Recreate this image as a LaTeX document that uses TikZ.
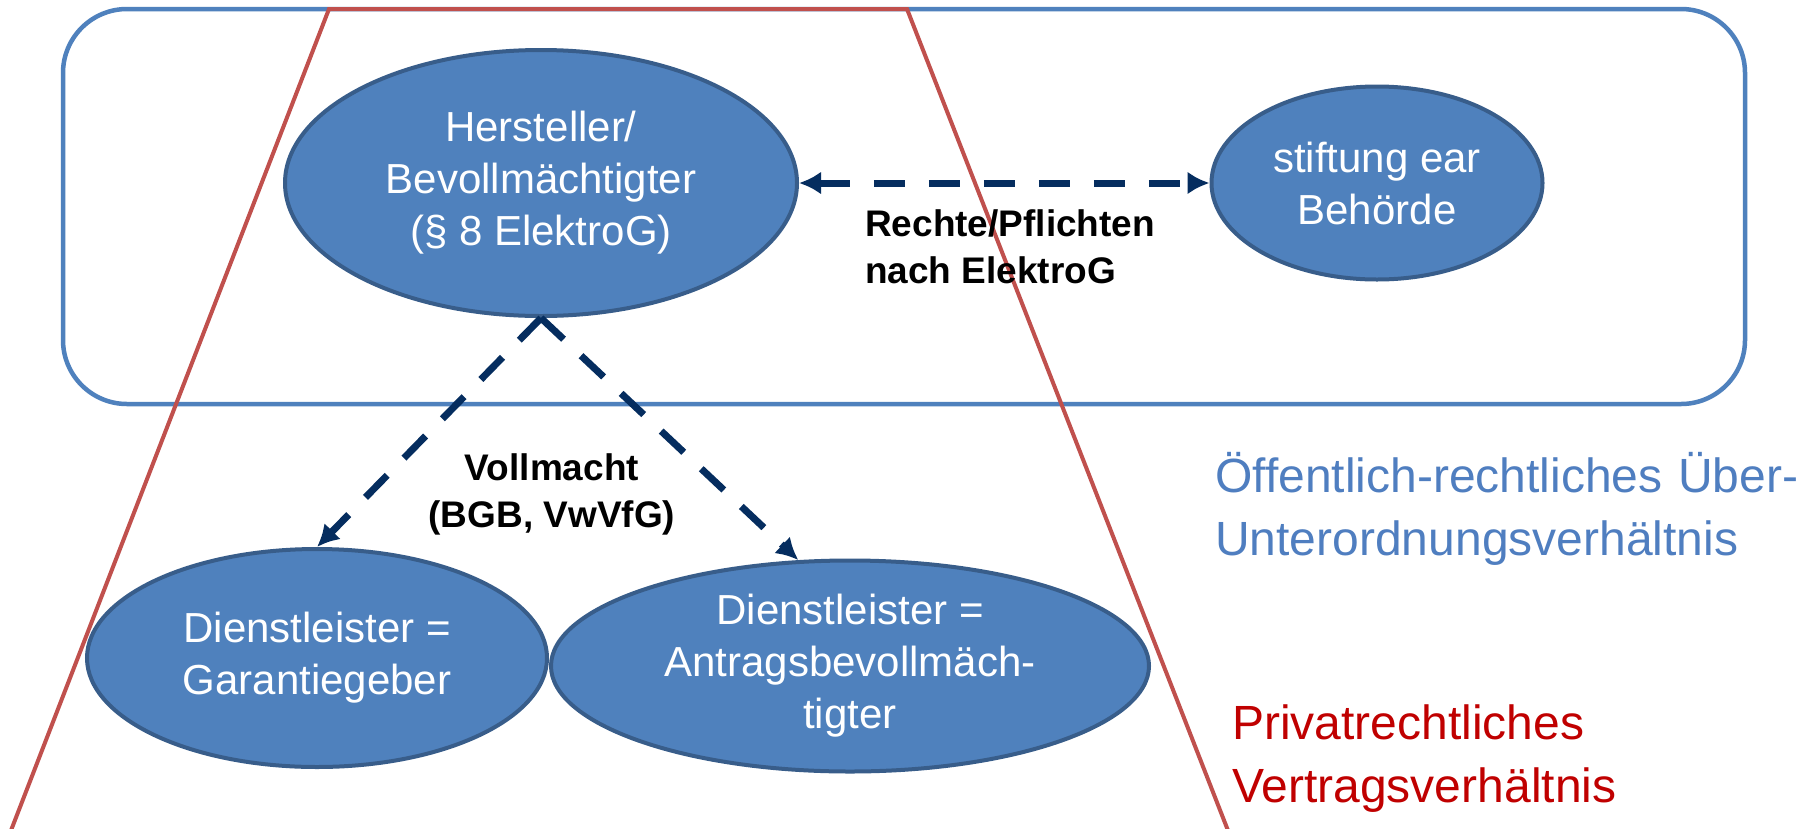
\documentclass[tikz,border=0pt]{standalone}
\usepackage{fontspec}
\setmainfont{Liberation Sans}
\usetikzlibrary{shapes.geometric,arrows.meta}
\definecolor{ellfill}{HTML}{4F81BD}
\definecolor{ellborder}{HTML}{385D8A}
\definecolor{arrowcol}{RGB}{5,45,95}
\definecolor{boxblue}{HTML}{4F81BD}
\definecolor{textblue}{HTML}{4F7EC0}
\definecolor{textred}{HTML}{C00000}
\definecolor{trapred}{HTML}{C0504D}
\tikzset{
  ell/.style={ellipse, draw=ellborder, fill=ellfill, line width=4pt, inner sep=0pt,
    text=white, align=center, font=\fontsize{42}{52}\selectfont},
  conn/.style={draw=arrowcol, line width=7pt, dash pattern=on 31pt off 24pt},
  tipL/.style={-{Latex[length=22pt,width=23pt]}},
  lbl/.style={font=\bfseries\fontsize{37}{47}\selectfont, text=black, inner sep=0pt},
  sidetext/.style={font=\fontsize{48}{63}\selectfont, inner sep=0pt, anchor=north west, align=left}
}
\begin{document}
\begin{tikzpicture}[x=1pt,y=-1pt]
\useasboundingbox (0,0) rectangle (1812,828);
\fill[white] (0,0) rectangle (1812,828);
% public-law frame
\draw[boxblue, line width=4.5pt, rounded corners=64pt] (63,9) rectangle (1745,404);
% private-law trapezoid
\draw[trapred, line width=4pt, line join=miter] (7.3,840) -- (329,9) -- (907,9) -- (1231.7,840);
% nodes
\node[ell, minimum width=512pt, minimum height=266pt] (H) at (541,183) {Hersteller/\\Bevollmächtigter\\(§ 8 ElektroG)};
\node[ell, minimum width=331pt, minimum height=193pt] (S) at (1377,183) {stiftung ear\\Behörde};
\node[ell, minimum width=460pt, minimum height=218pt] (G) at (317,658) {Dienstleister =\\Garantiegeber};
\node[ell, minimum width=598pt, minimum height=211pt] (A) at (850,666) {Dienstleister =\\Antragsbevollmäch-\\tigter};
% connectors
\draw[conn, {Latex[length=22pt,width=23pt]}-{Latex[length=22pt,width=23pt]}] (H.east) -- (S.west);
\draw[conn, tipL] (H.south) -- (G.north);
\draw[conn, tipL] (H.south) -- (A.116);
% labels
\node[lbl, anchor=west, align=left] (rp) at (865,247) {Rechte/Pflichten\\nach ElektroG};
\node[lbl, align=center] (vm) at (552,494) {Vollmacht\\(BGB, VwVfG)};
% side texts
\node[sidetext, text=textblue] (oe) at (1215,452) {\makebox[583pt][s]{Öffentlich-rechtliches Über-}\\Unterordnungsverhältnis};
\node[sidetext, text=textred] (pr) at (1232,705) {Privatrechtliches\\Vertragsverhältnis};
\end{tikzpicture}
\end{document}
